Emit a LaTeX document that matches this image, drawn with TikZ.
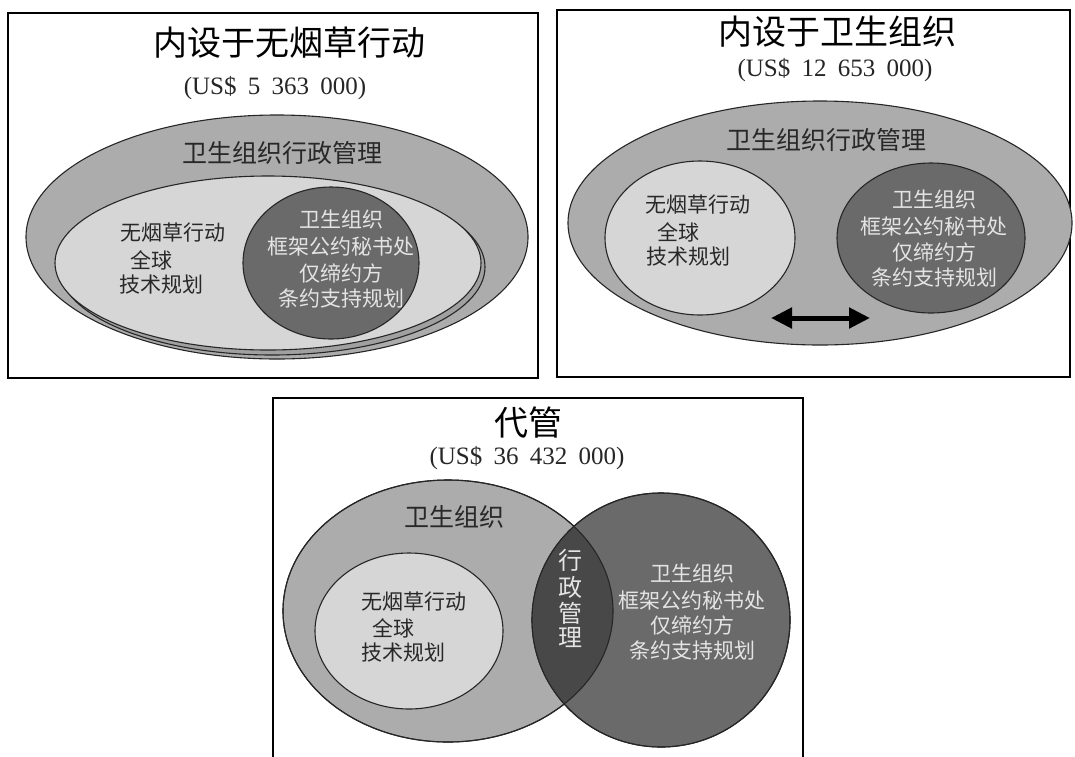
\documentclass[tikz,border=0pt]{standalone}
\usepackage{fontspec}
\setmainfont{Liberation Serif}
\newfontfamily\cjk{Noto Sans CJK SC}
\usetikzlibrary{arrows.meta}
\definecolor{midgray}{RGB}{172,172,172}
\definecolor{shadegray}{RGB}{160,160,160}
\definecolor{lightgray}{RGB}{214,214,214}
\definecolor{darkgray}{RGB}{106,106,106}
\definecolor{intergray}{RGB}{72,72,72}
\definecolor{lighttext}{RGB}{228,228,228}
\definecolor{darktext}{RGB}{40,40,40}
\tikzset{
  panelbox/.style={draw=black, line width=2.6pt},
  blob/.style={draw=black!85, line width=1.1pt},
  titletext/.style={font=\cjk\fontsize{34}{38}\selectfont, text=black, inner sep=0pt},
  moneytext/.style={font=\fontsize{25}{28}\selectfont, text=black!85, inner sep=0pt},
  labeltext/.style={font=\cjk\fontsize{25}{30}\selectfont, text=darktext, inner sep=0pt},
  bodytext/.style={font=\cjk\fontsize{21}{25}\selectfont, text=darktext, inner sep=0pt},
  lbodytext/.style={font=\cjk\fontsize{21}{25}\selectfont, text=lighttext, inner sep=0pt},
  vtext/.style={font=\cjk\fontsize{24}{26}\selectfont, text=lighttext, inner sep=0pt},
  dblarrow/.style={line width=5pt, {Triangle[length=21pt,width=20pt]}-{Triangle[length=21pt,width=20pt]}},
}
\newcommand{\money}[3]{(US\$\hspace{0.45em}#1\hspace{0.45em}#2\hspace{0.45em}#3)}
\begin{document}
\begin{tikzpicture}[x=1pt,y=-1pt]
\useasboundingbox (0,0) rectangle (1075,756);
\clip (0,0) rectangle (1075,756);
\fill[white] (0,0) rectangle (1075,756);

% ---------- Panel 1 ----------
\draw[panelbox] (8,13) rectangle (538,378);
\node[titletext] (t1) at (289,43) {内设于无烟草行动};
\node[moneytext] (m1) at (275,88) {\money{5}{363}{000}};
\draw[blob, fill=midgray] (277,237) ellipse [x radius=251pt, y radius=122pt];
\node[labeltext] (l1) at (282,153) {卫生组织行政管理};
\draw[blob, fill=shadegray] (272,267) ellipse [x radius=213pt, y radius=88pt];
\draw[blob, fill=lightgray] (268,263) ellipse [x radius=213pt, y radius=87pt];
\draw[blob, fill=darkgray] (331,263) ellipse [x radius=88pt, y radius=76pt];
\node[bodytext] (p1a) at (173,233) {无烟草行动};
\node[bodytext] (p1b) at (151,260) {全球};
\node[bodytext] (p1c) at (161,285) {技术规划};
\node[lbodytext] (d1a) at (341,220) {卫生组织};
\node[lbodytext] (d1b) at (341,247) {框架公约秘书处};
\node[lbodytext] (d1c) at (341,273) {仅缔约方};
\node[lbodytext] (d1d) at (341,298) {条约支持规划};

% ---------- Panel 2 ----------
\draw[panelbox] (557,10) rectangle (1070,377);
\node[titletext] (t2) at (837,32) {内设于卫生组织};
\node[moneytext] (m2) at (835,70) {\money{12}{653}{000}};
\draw[blob, fill=midgray] (820,223) ellipse [x radius=252pt, y radius=122pt];
\node[labeltext] (l2) at (826,140) {卫生组织行政管理};
\draw[blob, fill=lightgray] (700,238) ellipse [x radius=95pt, y radius=77pt];
\draw[blob, fill=darkgray] (931,238) ellipse [x radius=94pt, y radius=75pt];
\node[bodytext] (p2a) at (698,205) {无烟草行动};
\node[bodytext] (p2b) at (678,232) {全球};
\node[bodytext] (p2c) at (688,257) {技术规划};
\node[lbodytext] (d2a) at (934,200) {卫生组织};
\node[lbodytext] (d2b) at (934,227) {框架公约秘书处};
\node[lbodytext] (d2c) at (934,252) {仅缔约方};
\node[lbodytext] (d2d) at (934,277) {条约支持规划};
\coordinate (arrL) at (771,318);
\coordinate (arrR) at (870,318);
\draw[dblarrow] (arrL) -- (arrR);

% ---------- Panel 3 ----------
\draw[panelbox] (273,398) rectangle (803,800);
\node[titletext] (t3) at (528,423) {代管};
\node[moneytext] (m3) at (527,458) {\money{36}{432}{000}};
\draw[blob, fill=midgray] (448,611) ellipse [x radius=165pt, y radius=131pt];
\draw[blob, fill=darkgray] (661,620) ellipse [x radius=129pt, y radius=127pt];
\begin{scope}
  \clip (448,611) ellipse [x radius=165pt, y radius=131pt];
  \fill[intergray] (661,620) ellipse [x radius=129pt, y radius=127pt];
\end{scope}
\draw[blob] (448,611) ellipse [x radius=165pt, y radius=131pt];
\draw[blob] (661,620) ellipse [x radius=129pt, y radius=127pt];
\node[labeltext] (l3) at (454,517) {卫生组织};
\draw[blob, fill=lightgray] (409,631) ellipse [x radius=94pt, y radius=78pt];
\node[bodytext] (p3a) at (414,602) {无烟草行动};
\node[bodytext] (p3b) at (393,628) {全球};
\node[bodytext] (p3c) at (403,653) {技术规划};
\node[vtext] (v1) at (570,560) {行};
\node[vtext] (v2) at (570,587) {政};
\node[vtext] (v3) at (570,613) {管};
\node[vtext] (v4) at (570,638) {理};
\node[lbodytext] (d3a) at (692,573) {卫生组织};
\node[lbodytext] (d3b) at (692,600) {框架公约秘书处};
\node[lbodytext] (d3c) at (692,625) {仅缔约方};
\node[lbodytext] (d3d) at (692,650) {条约支持规划};
\end{tikzpicture}
\end{document}
